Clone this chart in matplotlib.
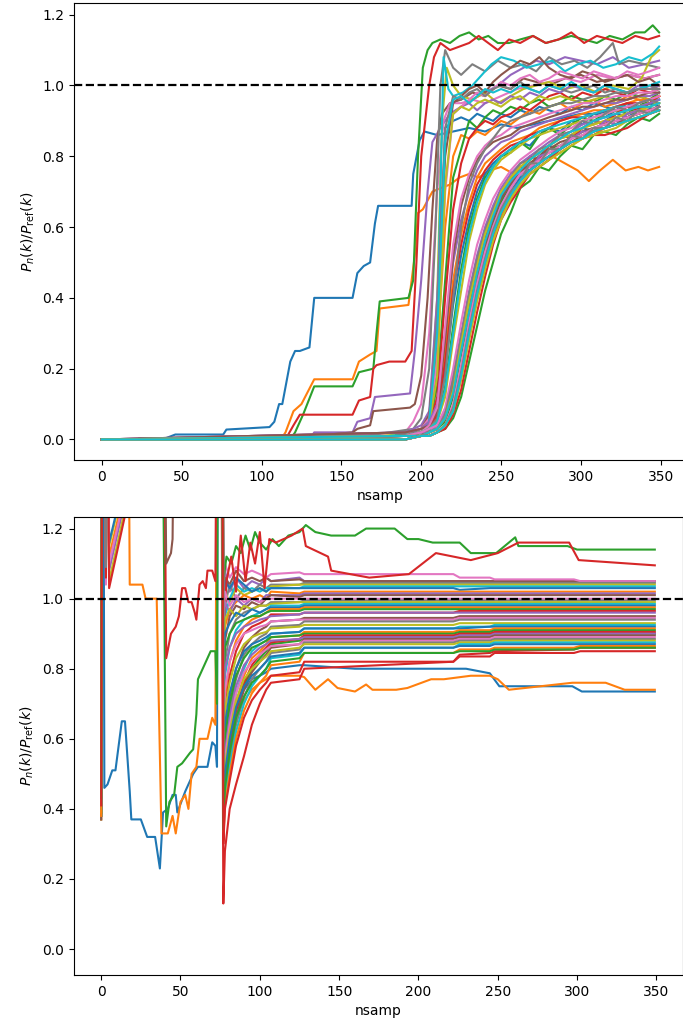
import numpy as np
import matplotlib.pyplot as plt

HI = 2.5  # value that sits above the top of the lower panel

# ---------------- upper panel ----------------
# early / special curves, each with its own sample points (colour slots 0-9)
top_special_x = [
    [0, 38, 46, 76, 78, 105, 108, 111, 113, 118, 121, 124, 130, 133, 157, 160, 164, 168, 171, 173,
     194, 195, 199, 202, 210, 220, 230, 240, 250, 260, 270, 280, 290, 300, 310, 320, 330, 340, 349],
    [0, 112, 115, 120, 125, 133, 157, 161, 168, 172, 174, 192, 194, 196, 198, 201, 207, 212, 218, 224,
     230, 236, 243, 250, 258, 266, 274, 282, 290, 298, 305, 312, 320, 328, 336, 342, 349],
    [0, 118, 121, 126, 133, 157, 161, 170, 172, 174, 192, 195, 198, 201, 204, 207, 212, 218, 224, 230,
     236, 242, 248, 255, 262, 270, 278, 286, 294, 302, 310, 318, 326, 334, 340, 345, 349],
    [0, 115, 120, 124, 157, 161, 168, 170, 172, 180, 190, 194, 197, 200, 202, 205, 208, 212, 218, 224,
     230, 236, 242, 248, 255, 262, 270, 278, 286, 294, 302, 310, 318, 326, 334, 342, 349],
    [0, 130, 133, 157, 160, 168, 171, 193, 196, 200, 204, 207, 212, 218, 225, 232, 240, 248, 256, 264,
     272, 280, 290, 300, 310, 320, 330, 340, 349],
    [0, 130, 133, 157, 160, 168, 170, 193, 196, 200, 204, 207, 210, 213, 218, 225, 232, 240, 248, 256,
     264, 272, 280, 290, 300, 310, 320, 330, 340, 349],
    [0, 150, 155, 190, 195, 200, 205, 210, 214, 218, 225, 232, 240, 250, 260, 270, 280, 290, 300, 310,
     320, 330, 340, 349],
    [0, 160, 165, 195, 200, 205, 209, 212, 215, 220, 225, 232, 240, 248, 256, 264, 272, 280, 288, 296,
     304, 312, 320, 324, 330, 340, 349],
    [0, 170, 175, 200, 205, 210, 213, 216, 220, 225, 232, 240, 248, 256, 264, 272, 280, 290, 300, 310,
     320, 330, 338, 344, 349],
    [0, 175, 180, 205, 208, 211, 214, 217, 220, 226, 232, 238, 244, 250, 258, 266, 274, 282, 290, 298,
     306, 314, 322, 330, 338, 345, 349],
]
top_special_y = [
    [0, 0, 0.014, 0.014, 0.028, 0.035, 0.05, 0.1, 0.1, 0.22, 0.25, 0.25, 0.26, 0.40, 0.40, 0.47, 0.49, 0.50, 0.61, 0.66,
     0.66, 0.75, 0.845, 0.87, 0.86, 0.87, 0.88, 0.87, 0.89, 0.88, 0.89, 0.9, 0.91, 0.92, 0.92, 0.93, 0.93, 0.94, 0.93],
    [0, 0, 0.02, 0.08, 0.10, 0.17, 0.17, 0.22, 0.24, 0.25, 0.37, 0.38, 0.45, 0.52, 0.64, 0.65, 0.70, 0.71, 0.72, 0.74,
     0.75, 0.74, 0.76, 0.77, 0.75, 0.77, 0.79, 0.80, 0.78, 0.76, 0.73, 0.76, 0.79, 0.76, 0.77, 0.76, 0.77],
    [0, 0, 0.02, 0.07, 0.15, 0.15, 0.19, 0.20, 0.30, 0.39, 0.40, 0.45, 0.80, 1.05, 1.10, 1.12, 1.13, 1.12, 1.14, 1.15,
     1.13, 1.14, 1.12, 1.12, 1.13, 1.14, 1.12, 1.13, 1.14, 1.13, 1.12, 1.14, 1.13, 1.15, 1.15, 1.17, 1.15],
    [0, 0, 0.04, 0.07, 0.07, 0.11, 0.12, 0.20, 0.21, 0.22, 0.22, 0.25, 0.50, 0.80, 0.88, 1.00, 1.08, 1.12, 1.10, 1.11,
     1.12, 1.14, 1.12, 1.10, 1.13, 1.12, 1.14, 1.12, 1.13, 1.15, 1.12, 1.14, 1.13, 1.12, 1.14, 1.13, 1.14],
    [0, 0, 0.02, 0.02, 0.05, 0.06, 0.12, 0.13, 0.25, 0.45, 0.70, 0.84, 0.88, 0.92, 0.94, 0.96, 0.98, 1.00, 1.03, 1.05,
     1.07, 1.06, 1.08, 1.07, 1.06, 1.08, 1.05, 1.06, 1.07],
    [0, 0, 0.01, 0.02, 0.03, 0.04, 0.08, 0.09, 0.10, 0.18, 0.40, 0.65, 0.85, 0.92, 0.95, 0.96, 0.98, 0.97, 1.00, 0.99,
     1.02, 1.01, 1.00, 1.02, 1.03, 1.01, 1.02, 1.03, 1.02, 1.03],
    [0, 0, 0.01, 0.02, 0.05, 0.10, 0.30, 0.70, 0.90, 0.95, 0.95, 0.96, 0.95, 0.97, 0.99, 1.00, 1.01, 1.02, 1.01, 1.03,
     1.02, 1.03, 1.02, 1.03],
    [0, 0, 0.01, 0.03, 0.06, 0.20, 0.60, 1.00, 1.10, 1.05, 1.03, 1.06, 1.04, 1.07, 1.05, 1.06, 1.04, 1.08, 1.06, 1.07,
     1.05, 1.08, 1.12, 1.06, 1.07, 1.06, 1.05],
    [0, 0, 0.01, 0.02, 0.05, 0.40, 0.90, 1.05, 1.00, 0.97, 0.96, 0.98, 0.95, 0.97, 0.99, 1.00, 1.01, 0.99, 1.00, 0.98,
     1.00, 0.99, 1.02, 1.08, 1.10],
    [0, 0, 0.01, 0.02, 0.08, 0.50, 1.08, 0.99, 0.97, 0.98, 1.00, 1.03, 1.06, 1.08, 1.07, 1.05, 1.06, 1.07, 1.04, 1.06,
     1.07, 1.05, 1.06, 1.08, 1.07, 1.09, 1.11],
]

# the rest of the curves on a shared grid (colour slots 10-49)
top_grid = [0, 190, 200, 205, 210, 215, 220, 225, 230, 235, 240, 245, 250, 256,
            262, 268, 274, 280, 287, 294, 301, 308, 315, 322, 329, 336, 343, 349]
top_rest = [
    [0, 0.01, 0.02, 0.04, 0.20, 0.88, 0.90, 0.91, 0.90, 0.92, 0.91, 0.90, 0.92, 0.91, 0.93, 0.92, 0.94, 0.93, 0.92, 0.94, 0.93, 0.95, 0.94, 0.93, 0.95, 0.94, 0.95, 0.94],
    [0, 0.01, 0.03, 0.06, 0.25, 0.60, 0.80, 0.86, 0.85, 0.87, 0.86, 0.88, 0.90, 0.89, 0.91, 0.93, 0.92, 0.94, 0.95, 0.93, 0.95, 0.96, 0.94, 0.95, 0.97, 0.96, 0.95, 0.97],
    [0, 0.01, 0.02, 0.05, 0.15, 0.45, 0.74, 0.82, 0.90, 0.88, 0.91, 0.93, 0.92, 0.94, 0.93, 0.95, 0.96, 0.94, 0.95, 0.97, 0.96, 0.95, 0.97, 0.96, 0.98, 0.97, 0.96, 0.98],
    [0, 0.01, 0.02, 0.04, 0.12, 0.40, 0.65, 0.78, 0.85, 0.88, 0.90, 0.89, 0.91, 0.92, 0.94, 0.93, 0.95, 0.97, 0.98, 0.96, 0.98, 0.97, 0.99, 0.98, 0.97, 0.99, 0.98, 0.99],
    [0, 0.02, 0.04, 0.08, 0.40, 0.85, 0.92, 0.94, 0.95, 0.93, 0.95, 0.96, 0.95, 0.97, 0.96, 0.98, 0.97, 0.99, 0.98, 1.00, 0.99, 0.98, 1.00, 0.99, 0.98, 1.00, 0.99, 1.00],
    [0, 0.02, 0.03, 0.07, 0.30, 0.80, 0.95, 0.97, 0.99, 1.00, 0.98, 1.01, 1.03, 1.05, 1.07, 1.06, 1.08, 1.05, 1.03, 1.02, 1.04, 1.03, 1.01, 1.02, 1.03, 1.01, 1.02, 1.00],
    [0, 0.01, 0.03, 0.06, 0.22, 0.70, 0.92, 0.94, 0.96, 0.98, 0.97, 0.99, 1.01, 1.00, 1.02, 1.03, 1.01, 1.02, 1.04, 1.03, 1.02, 1.04, 1.03, 1.02, 1.04, 1.03, 1.04, 1.05],
    [0, 0.01, 0.03, 0.05, 0.35, 0.88, 0.97, 0.96, 0.98, 0.99, 0.97, 0.99, 1.00, 0.99, 1.01, 0.99, 0.98, 1.00, 0.99, 0.98, 0.99, 1.00, 0.98, 0.99, 0.98, 0.99, 1.00, 0.99],
    [0, 0.01, 0.02, 0.04, 0.18, 0.72, 0.92, 0.94, 0.93, 0.95, 0.96, 0.95, 0.94, 0.96, 0.97, 0.95, 0.97, 0.96, 0.97, 0.96, 0.95, 0.96, 0.97, 0.95, 0.96, 0.97, 0.96, 0.97],
    [0, 0.01, 0.02, 0.05, 0.30, 0.84, 0.96, 0.97, 0.95, 0.97, 0.99, 0.98, 0.99, 0.98, 1.00, 0.99, 0.98, 1.00, 0.99, 1.01, 0.99, 0.98, 1.00, 0.99, 0.98, 0.99, 1.00, 1.01],
    [0, 0.01, 0.02, 0.03, 0.06, 0.20, 0.38, 0.52, 0.62, 0.70, 0.75, 0.78, 0.80, 0.82, 0.84, 0.83, 0.86, 0.88, 0.87, 0.90, 0.89, 0.92, 0.91, 0.93, 0.95, 0.93, 0.95, 0.96],
    [0, 0.01, 0.02, 0.04, 0.08, 0.25, 0.45, 0.58, 0.67, 0.74, 0.78, 0.80, 0.82, 0.84, 0.85, 0.86, 0.88, 0.89, 0.90, 0.91, 0.92, 0.93, 0.93, 0.94, 0.95, 0.96, 0.96, 0.97],
    [0, 0.01, 0.02, 0.03, 0.05, 0.15, 0.32, 0.48, 0.60, 0.68, 0.74, 0.77, 0.80, 0.81, 0.84, 0.82, 0.86, 0.88, 0.86, 0.89, 0.91, 0.90, 0.92, 0.93, 0.92, 0.94, 0.96, 0.95],
    [0, 0.01, 0.01, 0.03, 0.07, 0.22, 0.42, 0.55, 0.65, 0.72, 0.76, 0.79, 0.81, 0.83, 0.84, 0.86, 0.87, 0.88, 0.90, 0.91, 0.91, 0.92, 0.93, 0.94, 0.95, 0.95, 0.96, 0.97],
    [0, 0.02, 0.03, 0.05, 0.10, 0.30, 0.50, 0.62, 0.70, 0.76, 0.80, 0.82, 0.84, 0.85, 0.87, 0.88, 0.89, 0.90, 0.91, 0.92, 0.93, 0.94, 0.95, 0.95, 0.96, 0.97, 0.97, 0.98],
    [0, 0.02, 0.03, 0.04, 0.08, 0.28, 0.52, 0.66, 0.74, 0.79, 0.82, 0.84, 0.85, 0.86, 0.88, 0.89, 0.90, 0.91, 0.92, 0.93, 0.94, 0.94, 0.95, 0.96, 0.96, 0.97, 0.98, 0.98],
    [0, 0.01, 0.02, 0.04, 0.09, 0.32, 0.55, 0.68, 0.75, 0.80, 0.83, 0.85, 0.86, 0.88, 0.89, 0.90, 0.91, 0.92, 0.93, 0.94, 0.95, 0.95, 0.96, 0.97, 0.97, 0.98, 0.98, 0.99],
    [0, 0.01, 0.02, 0.03, 0.06, 0.18, 0.40, 0.60, 0.72, 0.78, 0.82, 0.85, 0.88, 0.90, 0.91, 0.92, 0.93, 0.94, 0.95, 0.95, 0.96, 0.97, 0.97, 0.98, 0.98, 0.99, 0.99, 0.99],
    [0, 0.01, 0.02, 0.03, 0.05, 0.12, 0.28, 0.42, 0.56, 0.65, 0.72, 0.76, 0.79, 0.81, 0.83, 0.85, 0.86, 0.87, 0.88, 0.89, 0.90, 0.91, 0.92, 0.93, 0.93, 0.94, 0.95, 0.95],
    [0, 0.01, 0.02, 0.03, 0.05, 0.14, 0.30, 0.46, 0.58, 0.67, 0.73, 0.77, 0.80, 0.82, 0.84, 0.85, 0.87, 0.88, 0.89, 0.90, 0.91, 0.92, 0.93, 0.94, 0.94, 0.95, 0.96, 0.96],
    [0, 0.01, 0.01, 0.02, 0.03, 0.06, 0.14, 0.26, 0.37, 0.46, 0.55, 0.62, 0.68, 0.73, 0.77, 0.76, 0.80, 0.83, 0.82, 0.86, 0.88, 0.87, 0.90, 0.92, 0.91, 0.93, 0.95, 0.94],
    [0, 0.01, 0.01, 0.02, 0.03, 0.07, 0.16, 0.28, 0.40, 0.50, 0.58, 0.65, 0.70, 0.74, 0.77, 0.79, 0.81, 0.83, 0.85, 0.86, 0.88, 0.89, 0.90, 0.91, 0.92, 0.93, 0.93, 0.94],
    [0, 0.01, 0.01, 0.02, 0.03, 0.05, 0.12, 0.24, 0.35, 0.45, 0.54, 0.61, 0.67, 0.72, 0.75, 0.78, 0.80, 0.82, 0.83, 0.85, 0.87, 0.88, 0.89, 0.90, 0.91, 0.92, 0.93, 0.94],
    [0, 0.01, 0.01, 0.02, 0.03, 0.06, 0.15, 0.27, 0.38, 0.48, 0.57, 0.64, 0.69, 0.73, 0.75, 0.80, 0.79, 0.83, 0.86, 0.85, 0.88, 0.90, 0.89, 0.92, 0.94, 0.93, 0.95, 0.97],
    [0, 0.01, 0.02, 0.02, 0.04, 0.08, 0.18, 0.30, 0.42, 0.52, 0.60, 0.66, 0.71, 0.75, 0.78, 0.80, 0.82, 0.84, 0.86, 0.87, 0.89, 0.90, 0.91, 0.92, 0.93, 0.94, 0.95, 0.96],
    [0, 0.01, 0.01, 0.02, 0.03, 0.06, 0.13, 0.25, 0.36, 0.46, 0.55, 0.62, 0.68, 0.72, 0.75, 0.78, 0.80, 0.82, 0.84, 0.85, 0.87, 0.88, 0.89, 0.90, 0.91, 0.92, 0.93, 0.93],
    [0, 0.01, 0.02, 0.03, 0.04, 0.09, 0.20, 0.33, 0.45, 0.55, 0.62, 0.68, 0.72, 0.76, 0.79, 0.81, 0.83, 0.85, 0.87, 0.88, 0.90, 0.91, 0.92, 0.93, 0.94, 0.95, 0.96, 0.97],
    [0, 0.01, 0.01, 0.02, 0.03, 0.07, 0.17, 0.29, 0.41, 0.51, 0.59, 0.65, 0.70, 0.74, 0.78, 0.79, 0.82, 0.83, 0.86, 0.87, 0.90, 0.89, 0.92, 0.94, 0.93, 0.95, 0.96, 0.95],
    [0, 0.01, 0.01, 0.02, 0.03, 0.06, 0.14, 0.27, 0.39, 0.49, 0.58, 0.64, 0.70, 0.74, 0.77, 0.79, 0.81, 0.83, 0.85, 0.86, 0.88, 0.89, 0.90, 0.91, 0.92, 0.93, 0.94, 0.95],
    [0, 0.01, 0.01, 0.02, 0.03, 0.06, 0.13, 0.25, 0.36, 0.47, 0.56, 0.63, 0.69, 0.73, 0.76, 0.79, 0.81, 0.83, 0.85, 0.87, 0.88, 0.90, 0.91, 0.92, 0.93, 0.94, 0.94, 0.95],
    [0, 0.00, 0.01, 0.01, 0.02, 0.04, 0.09, 0.19, 0.31, 0.42, 0.51, 0.59, 0.65, 0.70, 0.74, 0.76, 0.78, 0.80, 0.82, 0.84, 0.85, 0.87, 0.88, 0.89, 0.90, 0.91, 0.92, 0.93],
    [0, 0.00, 0.01, 0.01, 0.02, 0.04, 0.08, 0.17, 0.29, 0.40, 0.49, 0.57, 0.63, 0.68, 0.72, 0.75, 0.77, 0.79, 0.81, 0.83, 0.85, 0.86, 0.88, 0.89, 0.90, 0.91, 0.92, 0.93],
    [0, 0.00, 0.01, 0.01, 0.02, 0.03, 0.06, 0.12, 0.22, 0.32, 0.42, 0.50, 0.58, 0.64, 0.71, 0.73, 0.77, 0.76, 0.80, 0.83, 0.82, 0.86, 0.87, 0.86, 0.89, 0.91, 0.90, 0.92],
    [0, 0.00, 0.01, 0.01, 0.02, 0.03, 0.07, 0.14, 0.25, 0.36, 0.46, 0.55, 0.62, 0.67, 0.71, 0.75, 0.77, 0.79, 0.82, 0.84, 0.85, 0.86, 0.86, 0.87, 0.88, 0.90, 0.92, 0.93],
    [0, 0.00, 0.01, 0.01, 0.02, 0.04, 0.09, 0.20, 0.32, 0.43, 0.52, 0.60, 0.66, 0.71, 0.75, 0.76, 0.80, 0.81, 0.82, 0.85, 0.87, 0.87, 0.90, 0.89, 0.92, 0.93, 0.92, 0.94],
    [0, 0.00, 0.01, 0.01, 0.02, 0.04, 0.08, 0.18, 0.30, 0.41, 0.50, 0.58, 0.64, 0.69, 0.73, 0.76, 0.78, 0.80, 0.82, 0.84, 0.86, 0.87, 0.88, 0.89, 0.91, 0.92, 0.93, 0.94],
    [0, 0.00, 0.01, 0.01, 0.02, 0.04, 0.10, 0.21, 0.33, 0.44, 0.53, 0.60, 0.66, 0.71, 0.75, 0.77, 0.79, 0.81, 0.83, 0.85, 0.86, 0.88, 0.89, 0.90, 0.91, 0.92, 0.93, 0.94],
    [0, 0.00, 0.01, 0.01, 0.02, 0.04, 0.09, 0.19, 0.31, 0.42, 0.51, 0.59, 0.65, 0.70, 0.73, 0.78, 0.78, 0.82, 0.82, 0.86, 0.85, 0.88, 0.88, 0.91, 0.90, 0.93, 0.92, 0.94],
    [0, 0.00, 0.01, 0.01, 0.02, 0.04, 0.08, 0.17, 0.28, 0.39, 0.48, 0.56, 0.62, 0.68, 0.72, 0.75, 0.77, 0.79, 0.81, 0.83, 0.85, 0.86, 0.87, 0.88, 0.90, 0.91, 0.92, 0.93],
    [0, 0.00, 0.01, 0.01, 0.02, 0.04, 0.08, 0.18, 0.30, 0.41, 0.50, 0.58, 0.64, 0.69, 0.73, 0.76, 0.78, 0.80, 0.82, 0.84, 0.85, 0.87, 0.88, 0.89, 0.90, 0.91, 0.92, 0.93],
]

# ---------------- lower panel ----------------
# special curves with own sample points, and the colour slot they take
bot_special_slot = [0, 1, 2, 3, 5, 12, 13]
bot_special_x = [
    [0, 1, 2, 4, 7, 9, 13, 15, 18, 19, 25, 29, 34, 37, 39, 42, 45, 47, 48, 53,
     58, 61, 67, 70, 72, 73, 74, 76, 77, 78, 81, 85, 90, 95, 100, 104, 107, 125, 128, 160,
     230, 245, 251, 297, 303, 349],
    [0, 1, 16, 18, 26, 28, 35, 38, 42, 45, 47, 50, 53, 55, 57, 60, 62, 67, 70, 72,
     74, 76, 77, 78, 81, 85, 90, 95, 100, 104, 107, 125, 128, 135, 143, 149, 160, 167, 171, 186,
     193, 208, 216, 233, 245, 250, 257, 297, 318, 330, 349],
    [0, 1, 37, 41, 43, 46, 48, 51, 56, 58, 60, 61, 63, 69, 72, 73, 74, 76, 77, 78,
     81, 85, 90, 95, 100, 104, 107, 125, 128, 222, 226, 245, 248, 298, 302, 349],
    [0, 1, 38, 41, 44, 47, 49, 51, 53, 55, 57, 59, 60, 62, 64, 66, 67, 70, 72, 74,
     75, 77, 78, 81, 85, 90, 95, 100, 104, 107, 125, 128, 222, 226, 245, 248, 298, 302, 349],
    [0, 1, 38, 41, 44, 45, 48, 76, 77, 78, 81, 85, 90, 95, 100, 104, 107, 125, 128, 222,
     226, 245, 248, 298, 302, 349],
    [0, 1, 76, 77, 79, 82, 85, 88, 91, 94, 97, 100, 104, 108, 112, 118, 125, 129, 135, 145,
     160, 167, 175, 185, 193, 200, 209, 226, 233, 249, 261, 263, 294, 300, 349],
    [0, 1, 76, 77, 79, 82, 85, 88, 91, 94, 97, 100, 103, 106, 110, 115, 120, 127, 129, 143,
     145, 169, 194, 211, 233, 250, 263, 295, 301, 349],
]
bot_special_y = [
    [0.40, HI, 0.46, 0.47, 0.51, 0.51, 0.65, 0.65, 0.45, 0.37, 0.37, 0.32, 0.32, 0.23, 0.39, 0.40, 0.44, 0.44, 0.39, 0.45,
     0.50, 0.52, 0.52, 0.59, 0.58, 0.52, HI, HI, 0.55, 0.58, 0.64, 0.70, 0.74, 0.77, 0.78, 0.79, 0.80, 0.81, 0.81, 0.80,
     0.80, 0.787, 0.75, 0.75, 0.735, 0.735],
    [0.41, HI, HI, 1.04, 1.04, 1.00, 1.00, 0.33, 0.33, 0.38, 0.33, 0.42, 0.44, 0.40, 0.50, 0.52, 0.60, 0.60, 0.66, 0.64,
     HI, HI, 0.48, 0.52, 0.60, 0.66, 0.71, 0.74, 0.76, 0.77, 0.78, 0.78, 0.776, 0.74, 0.77, 0.745, 0.735, 0.755, 0.74, 0.74,
     0.745, 0.77, 0.77, 0.78, 0.78, 0.77, 0.74, 0.76, 0.76, 0.74, 0.74],
    [0.39, HI, HI, 0.35, 0.42, 0.44, 0.52, 0.53, 0.56, 0.57, 0.67, 0.77, 0.79, 0.85, 0.85, 0.70, HI, HI, 0.42, 0.50,
     0.60, 0.68, 0.75, 0.80, 0.83, 0.85, 0.87, 0.88, 0.89, 0.89, 0.895, 0.895, 0.90, 0.90, 0.90, 0.90],
    [0.37, HI, HI, 0.83, 0.90, 0.92, 0.95, 1.03, 1.03, 0.99, 0.99, 0.96, 0.94, 1.04, 1.05, 1.03, 1.08, 1.08, 1.05, HI,
     HI, 0.13, 0.28, 0.40, 0.47, 0.55, 0.64, 0.70, 0.74, 0.76, 0.77, 0.80, 0.82, 0.84, 0.845, 0.85, 0.855, 0.86, 0.86],
    [0.40, HI, HI, 1.10, 1.13, 1.17, HI, HI, 1.00, 1.06, 1.04, 1.08, 1.05, 1.06, 1.05, 1.06, 1.05, 1.055, 1.05, 1.05,
     1.05, 1.05, 1.05, 1.05, 1.05, 1.05],
    [0.42, HI, HI, 1.05, 1.12, 1.10, 1.15, 1.13, 1.18, 1.14, 1.19, 1.16, 1.14, 1.17, 1.15, 1.18, 1.19, 1.21, 1.19, 1.18,
     1.18, 1.20, 1.20, 1.20, 1.17, 1.17, 1.16, 1.16, 1.13, 1.13, 1.175, 1.15, 1.15, 1.14, 1.14],
    [0.38, HI, HI, 0.90, 1.05, 1.12, 1.02, 1.18, 1.05, 1.16, 1.10, 1.19, 1.03, 1.17, 1.16, 1.17, 1.18, 1.20, 1.15, 1.12,
     1.08, 1.06, 1.07, 1.13, 1.11, 1.13, 1.16, 1.16, 1.11, 1.095],
]

# remaining curves on a shared grid
bot_grid = [0, 1, 3, 5, 76, 77, 78, 81, 85, 90, 95, 100, 104, 107, 125, 128, 222, 226, 245, 248, 298, 302, 349]
bot_rest = [
    [0.40, HI, HI, 1.08, HI, 0.95, 1.08, 1.02, 1.06, 1.03, 1.05, 1.04, 1.06, 1.05, 1.06, 1.05, 1.05, 1.05, 1.05, 1.05, 1.05, 1.05, 1.05],
    [0.42, HI, 1.12, HI, HI, 1.02, 1.10, 1.06, 1.09, 1.07, 1.08, 1.07, 1.06, 1.07, 1.075, 1.07, 1.07, 1.06, 1.06, 1.055, 1.055, 1.05, 1.05],
    [0.39, HI, 1.20, HI, HI, 0.85, 0.98, 1.04, 1.00, 1.03, 1.02, 1.04, 1.03, 1.04, 1.04, 1.045, 1.045, 1.045, 1.045, 1.045, 1.045, 1.045, 1.045],
    [0.44, HI, HI, 1.05, HI, 0.90, 1.02, 0.99, 1.03, 1.01, 1.02, 1.03, 1.02, 1.035, 1.04, 1.04, 1.04, 1.04, 1.04, 1.04, 1.04, 1.04, 1.04],
    [0.41, HI, HI, HI, HI, 0.80, 0.95, 1.00, 1.04, 1.02, 1.03, 1.02, 1.03, 1.03, 1.03, 1.035, 1.035, 1.035, 1.035, 1.035, 1.035, 1.035, 1.035],
    [0.38, HI, 1.18, HI, HI, 0.98, 1.05, 1.03, 1.06, 1.04, 1.02, 1.03, 1.02, 1.03, 1.03, 1.03, 1.03, 1.025, 1.03, 1.03, 1.03, 1.03, 1.03],
    [0.43, HI, HI, 1.12, HI, 0.75, 0.92, 0.97, 0.99, 1.01, 1.00, 1.01, 1.00, 1.02, 1.015, 1.02, 1.02, 1.02, 1.02, 1.02, 1.02, 1.02, 1.02],
    [0.40, HI, HI, HI, HI, 0.88, 0.99, 0.96, 1.00, 0.98, 1.00, 0.99, 1.01, 1.01, 1.01, 1.015, 1.015, 1.015, 1.015, 1.015, 1.015, 1.015, 1.015],
    [0.45, HI, 1.08, HI, HI, 0.70, 0.88, 0.95, 0.98, 0.97, 0.99, 0.98, 1.00, 1.01, 1.005, 1.01, 1.01, 1.01, 1.01, 1.01, 1.01, 1.01, 1.01],
    [0.39, HI, 1.04, HI, HI, 0.93, 1.02, 0.98, 1.01, 0.99, 1.00, 0.99, 1.00, 1.00, 1.00, 1.00, 1.00, 1.00, 1.00, 1.00, 1.00, 1.00, 1.00],
    [0.41, HI, HI, HI, HI, 0.65, 0.82, 0.90, 0.94, 0.96, 0.97, 0.98, 0.98, 0.99, 0.99, 0.995, 0.995, 0.995, 0.995, 0.995, 0.995, 0.995, 0.995],
    [0.37, HI, HI, 1.15, HI, 0.82, 0.94, 0.97, 0.95, 0.98, 0.97, 0.98, 0.98, 0.985, 0.99, 0.99, 0.99, 0.99, 0.99, 0.99, 0.99, 0.99, 0.99],
    [0.43, HI, HI, HI, HI, 0.60, 0.78, 0.86, 0.91, 0.94, 0.95, 0.96, 0.97, 0.98, 0.98, 0.985, 0.985, 0.985, 0.985, 0.985, 0.985, 0.985, 0.985],
    [0.40, HI, HI, 1.16, HI, 0.78, 0.90, 0.93, 0.96, 0.95, 0.97, 0.96, 0.97, 0.975, 0.975, 0.98, 0.98, 0.98, 0.98, 0.98, 0.98, 0.98, 0.98],
    [0.42, HI, 1.10, HI, HI, 0.55, 0.72, 0.82, 0.88, 0.92, 0.94, 0.95, 0.96, 0.97, 0.97, 0.975, 0.975, 0.975, 0.975, 0.975, 0.975, 0.975, 0.975],
    [0.38, HI, HI, HI, HI, 0.72, 0.86, 0.90, 0.93, 0.94, 0.95, 0.95, 0.96, 0.965, 0.965, 0.97, 0.97, 0.97, 0.97, 0.97, 0.97, 0.97, 0.97],
    [0.44, HI, 1.06, HI, HI, 0.50, 0.68, 0.78, 0.85, 0.90, 0.92, 0.93, 0.94, 0.955, 0.955, 0.96, 0.96, 0.965, 0.965, 0.965, 0.965, 0.965, 0.965],
    [0.40, HI, HI, HI, HI, 0.66, 0.80, 0.86, 0.90, 0.92, 0.93, 0.94, 0.945, 0.95, 0.955, 0.96, 0.96, 0.96, 0.96, 0.96, 0.96, 0.96, 0.96],
    [0.41, HI, HI, HI, HI, 0.45, 0.62, 0.72, 0.80, 0.86, 0.89, 0.91, 0.92, 0.935, 0.94, 0.945, 0.945, 0.95, 0.95, 0.95, 0.95, 0.95, 0.95],
    [0.39, HI, HI, 1.10, HI, 0.58, 0.74, 0.82, 0.87, 0.90, 0.91, 0.92, 0.925, 0.935, 0.94, 0.94, 0.94, 0.945, 0.945, 0.945, 0.945, 0.945, 0.945],
    [0.43, HI, HI, HI, HI, 0.42, 0.58, 0.68, 0.77, 0.84, 0.87, 0.89, 0.90, 0.92, 0.925, 0.935, 0.935, 0.94, 0.94, 0.94, 0.94, 0.94, 0.94],
    [0.40, HI, HI, HI, HI, 0.52, 0.68, 0.76, 0.83, 0.87, 0.89, 0.90, 0.905, 0.915, 0.92, 0.925, 0.925, 0.93, 0.93, 0.93, 0.93, 0.93, 0.93],
    [0.38, HI, 1.14, HI, HI, 0.40, 0.54, 0.64, 0.73, 0.80, 0.85, 0.87, 0.88, 0.90, 0.905, 0.915, 0.915, 0.92, 0.92, 0.925, 0.925, 0.925, 0.925],
    [0.42, HI, HI, HI, HI, 0.48, 0.64, 0.73, 0.80, 0.85, 0.87, 0.88, 0.89, 0.90, 0.905, 0.915, 0.915, 0.915, 0.92, 0.92, 0.92, 0.92, 0.92],
    [0.41, HI, HI, HI, HI, 0.38, 0.50, 0.60, 0.70, 0.78, 0.83, 0.85, 0.87, 0.89, 0.895, 0.905, 0.905, 0.91, 0.91, 0.915, 0.915, 0.915, 0.915],
    [0.39, HI, HI, HI, HI, 0.45, 0.60, 0.70, 0.78, 0.83, 0.86, 0.87, 0.88, 0.89, 0.895, 0.90, 0.90, 0.905, 0.905, 0.91, 0.91, 0.91, 0.91],
    [0.44, HI, HI, 1.03, HI, 0.36, 0.48, 0.58, 0.68, 0.76, 0.81, 0.84, 0.86, 0.875, 0.885, 0.895, 0.895, 0.90, 0.90, 0.905, 0.905, 0.905, 0.905],
    [0.40, HI, HI, HI, HI, 0.42, 0.56, 0.66, 0.75, 0.81, 0.84, 0.86, 0.87, 0.88, 0.885, 0.89, 0.89, 0.895, 0.895, 0.90, 0.90, 0.90, 0.90],
    [0.37, HI, HI, HI, HI, 0.34, 0.46, 0.56, 0.66, 0.74, 0.79, 0.82, 0.84, 0.86, 0.87, 0.885, 0.885, 0.89, 0.89, 0.895, 0.895, 0.895, 0.895],
    [0.43, HI, HI, HI, HI, 0.40, 0.54, 0.64, 0.73, 0.79, 0.82, 0.84, 0.855, 0.865, 0.87, 0.88, 0.88, 0.885, 0.885, 0.89, 0.89, 0.89, 0.89],
    [0.41, HI, 1.09, HI, HI, 0.33, 0.44, 0.54, 0.64, 0.72, 0.77, 0.80, 0.82, 0.845, 0.855, 0.875, 0.875, 0.88, 0.88, 0.885, 0.885, 0.885, 0.885],
    [0.39, HI, HI, HI, HI, 0.38, 0.52, 0.62, 0.71, 0.77, 0.80, 0.82, 0.835, 0.85, 0.86, 0.87, 0.87, 0.875, 0.875, 0.88, 0.88, 0.88, 0.88],
    [0.42, HI, HI, HI, HI, 0.32, 0.42, 0.52, 0.62, 0.70, 0.75, 0.78, 0.80, 0.83, 0.84, 0.86, 0.86, 0.87, 0.87, 0.875, 0.875, 0.875, 0.875],
    [0.40, HI, HI, HI, HI, 0.36, 0.50, 0.60, 0.69, 0.75, 0.78, 0.80, 0.82, 0.835, 0.845, 0.86, 0.86, 0.865, 0.865, 0.87, 0.87, 0.87, 0.87],
    [0.38, HI, HI, HI, HI, 0.31, 0.41, 0.50, 0.60, 0.68, 0.73, 0.76, 0.78, 0.81, 0.82, 0.845, 0.845, 0.855, 0.855, 0.86, 0.86, 0.865, 0.865],
    [0.43, HI, HI, HI, HI, 0.34, 0.46, 0.56, 0.66, 0.72, 0.76, 0.78, 0.80, 0.82, 0.83, 0.845, 0.845, 0.85, 0.85, 0.855, 0.855, 0.86, 0.86],
    [0.41, HI, HI, HI, HI, 0.30, 0.40, 0.48, 0.58, 0.66, 0.71, 0.74, 0.76, 0.78, 0.79, 0.82, 0.82, 0.835, 0.835, 0.845, 0.845, 0.85, 0.85],
]

fig = plt.figure(figsize=(6.83, 10.30), dpi=100)
ax1 = fig.add_axes([74 / 683, 1 - 460 / 1030, 613 / 683, 457 / 1030])
ax2 = fig.add_axes([73.5 / 683, 1 - 975 / 1030, 609 / 683, 458 / 1030])

for x, y in zip(top_special_x, top_special_y):
    ax1.plot(x, y)
for y in top_rest:
    ax1.plot(top_grid, y)

special = dict(zip(bot_special_slot, zip(bot_special_x, bot_special_y)))
rest = iter(bot_rest)
for i in range(len(bot_rest) + len(bot_special_x)):
    if i in special:
        x, y = special[i]
    else:
        x, y = bot_grid, next(rest)
    ax2.plot(x, y)

for ax, ylo in ((ax1, -0.058), (ax2, -0.074)):
    ax.axhline(1.0, color='k', ls='--', lw=1.6)
    ax.set_xlim(-17.45, 366.45)
    ax.set_ylim(ylo, 1.233)
    ax.set_xlabel('nsamp')
    ax.set_ylabel(r'$P_n(k)/P_{\rm ref}(k)$')

fig.savefig('out.png', dpi=100)
